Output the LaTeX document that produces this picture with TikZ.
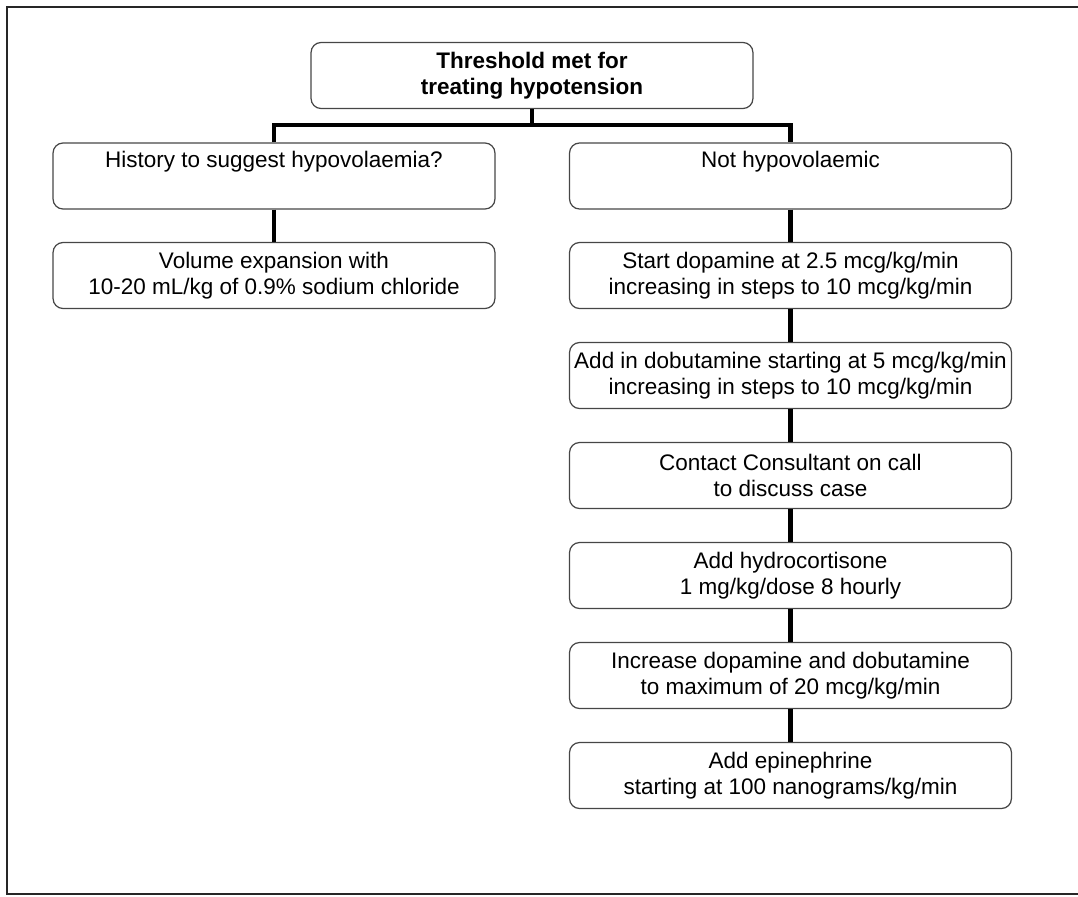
\documentclass[tikz,border=0pt]{standalone}
\usepackage{fontspec}
\setmainfont{Liberation Sans}
\usetikzlibrary{positioning}
\definecolor{boxline}{RGB}{70,70,70}

\begin{document}
\begin{tikzpicture}[x=0.02cm, y=-0.02cm,
    stepbox/.style={draw=boxline, line width=0.7pt, rounded corners=0.2cm, minimum width=8.84cm, minimum height=1.32cm, inner sep=0pt, align=center, font=\fontsize{12.8}{14.8}\selectfont},
    link/.style={line width=2.8pt, black}]
    \useasboundingbox (0,0) rectangle (1078,896);
    % frame
    \draw[line width=1.2pt, black!85] (1080,7) -- (7,7) -- (7,894) -- (1080,894);

    % threshold
    \node[stepbox, font=\fontsize{12.8}{14.8}\selectfont\bfseries] (thresh) at (532,75.5) {Threshold met for\\treating hypotension};
    \coordinate (split) at (532,125);

    % left branch
    \node[stepbox] (hist) at (274,176) {History to suggest hypovolaemia?\\\strut};
    \node[stepbox] (volume) at (274,275.5) {Volume expansion with\\10-20 mL/kg of 0.9\% sodium chloride};

    % right branch
    \node[stepbox] (nothypo) at (790.5,176) {Not hypovolaemic\\\strut};
    \node[stepbox] (dopa) at (790.5,275.5) {Start dopamine at 2.5 mcg/kg/min\\increasing in steps to 10 mcg/kg/min};
    \node[stepbox] (dobu) at (790.5,375.5) {Add in dobutamine starting at 5 mcg/kg/min\\increasing in steps to 10 mcg/kg/min};
    \node[stepbox] (consult) at (790.5,475.5) {Contact Consultant on call\\to discuss case};
    \node[stepbox] (hydro) at (790.5,575.5) {Add hydrocortisone\\1 mg/kg/dose 8 hourly};
    \node[stepbox] (maxdose) at (790.5,675.5) {Increase dopamine and dobutamine\\to maximum of 20 mcg/kg/min};
    \node[stepbox] (epi) at (790.5,775.5) {Add epinephrine\\starting at 100 nanograms/kg/min};

    % connectors
    \draw[link] (thresh) -- (split);
    \draw[link] (hist) |- (split) -| (nothypo);
    \draw[link] (hist) -- (volume);
    \draw[link] (nothypo) -- (dopa);
    \draw[link] (dopa) -- (dobu);
    \draw[link] (dobu) -- (consult);
    \draw[link] (consult) -- (hydro);
    \draw[link] (hydro) -- (maxdose);
    \draw[link] (maxdose) -- (epi);
\end{tikzpicture}
\end{document}
